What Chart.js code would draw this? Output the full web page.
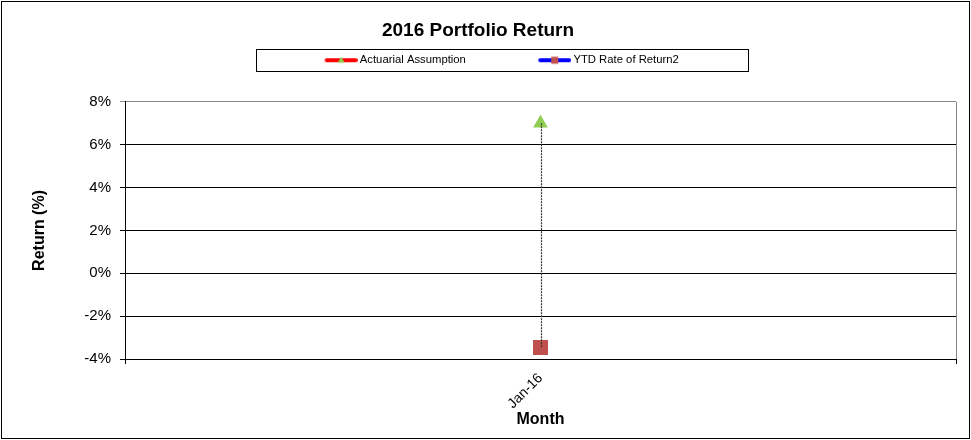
<!DOCTYPE html>
<html>
<head>
<meta charset="utf-8">
<title>2016 Portfolio Return</title>
<script src="https://cdn.jsdelivr.net/npm/chart.js@4/dist/chart.umd.min.js"></script>
<style>
  html, body { margin: 0; padding: 0; background: #fff; }
  #wrap { width: 971px; height: 440px; position: relative; }
</style>
</head>
<body>
<div id="wrap"><canvas id="returnChart"></canvas></div>
<script>
// data
const months = ['Jan-16'];
const actuarialAssumption = [7.0];
const ytdReturn = [-3.46];
const seriesNames = ['Actuarial Assumption', 'YTD Rate of Return2'];
const yTicks = { min: -4, max: 8, step: 2 };

Chart.defaults.font.family = '"Liberation Sans", Arial, sans-serif';
Chart.defaults.color = '#000';

const ICON_BOX = 77;

// little line+marker pictures for the legend
function legendIcon(lineColor, marker, markerColor) {
  const c = document.createElement('canvas');
  c.width = ICON_BOX + 7; c.height = 12;
  const g = c.getContext('2d');
  const x0 = c.width - 31, x1 = c.width - 2, mid = (x0 + x1) / 2;
  g.strokeStyle = lineColor;
  g.lineWidth = 4;
  g.lineCap = 'round';
  g.beginPath();
  g.moveTo(x0, 6); g.lineTo(x1, 6);
  g.stroke();
  g.fillStyle = markerColor;
  if (marker === 'triangle') {
    g.beginPath();
    g.moveTo(mid, 2.5); g.lineTo(mid + 3.5, 8.5); g.lineTo(mid - 3.5, 8.5);
    g.closePath(); g.fill();
  } else {
    g.fillRect(mid - 3.5, 2.5, 7, 7);
  }
  return c;
}
const icons = [
  legendIcon('#ff0000', 'triangle', '#8fce52'),
  legendIcon('#0000ff', 'rect', '#c0504d')
];

// outer frame, legend box, right border of plot, high-low dotted line
const extras = {
  id: 'extras',
  afterDatasetsDraw(chart) {
    const ctx = chart.ctx;
    const p0 = chart.getDatasetMeta(0).data[0];
    const p1 = chart.getDatasetMeta(1).data[0];
    ctx.save();
    ctx.strokeStyle = '#333';
    ctx.lineWidth = 1.2;
    ctx.setLineDash([2, 1]);
    ctx.beginPath();
    ctx.moveTo(Math.round(p0.x) + 0.5, p0.y);
    ctx.lineTo(Math.round(p1.x) + 0.5, p1.y);
    ctx.stroke();
    ctx.restore();
  },
  afterDraw(chart) {
    const ctx = chart.ctx;
    const a = chart.chartArea;
    ctx.save();
    ctx.strokeStyle = '#888';
    ctx.lineWidth = 1;
    ctx.beginPath();
    ctx.moveTo(Math.round(a.right) + 0.5, a.top);
    ctx.lineTo(Math.round(a.right) + 0.5, a.bottom);
    ctx.stroke();

    ctx.strokeStyle = '#000';
    ctx.strokeRect(1.5, 1.5, chart.width - 3, chart.height - 3);

    const hb = chart.legend.legendHitBoxes;
    if (hb && hb.length) {
      const first = hb[0], last = hb[hb.length - 1];
      const x0 = Math.round(first.left + ICON_BOX + 5.5 - 104) + 0.5;
      const x1 = Math.round(last.left + last.width + 69) + 0.5;
      const y0 = Math.round(first.top + 5.5 - 11.5) + 0.5;
      ctx.strokeRect(x0, y0, x1 - x0, 22);
    }
    ctx.restore();
  }
};

new Chart(document.getElementById('returnChart'), {
  type: 'line',
  data: {
    labels: months,
    datasets: [{
      label: seriesNames[0],
      data: actuarialAssumption,
      borderColor: '#ff0000',
      backgroundColor: '#8fce52',
      pointBackgroundColor: '#8fce52',
      pointBorderColor: '#8fce52',
      pointStyle: 'triangle',
      pointRadius: 8.5,
      pointBorderWidth: 0,
      showLine: false
    }, {
      label: seriesNames[1],
      data: ytdReturn,
      borderColor: '#0000ff',
      backgroundColor: '#c0504d',
      pointBackgroundColor: '#c0504d',
      pointBorderColor: '#c0504d',
      pointStyle: 'rect',
      pointRadius: 10.6,
      pointBorderWidth: 0,
      showLine: false
    }]
  },
  options: {
    responsive: true,
    maintainAspectRatio: false,
    animation: false,
    layout: { padding: { top: 0, right: 15, bottom: 0, left: 0 } },
    plugins: {
      title: {
        display: true,
        text: '2016 Portfolio Return',
        color: '#000',
        font: { size: 19, weight: 'bold' },
        padding: { top: 19.6, bottom: 6.2 }
      },
      subtitle: {
        display: true,
        text: '',
        weight: 500,
        font: { size: 10 },
        padding: { top: 14, bottom: 0 }
      },
      legend: {
        display: true,
        position: 'top',
        labels: {
          usePointStyle: true,
          pointStyleWidth: ICON_BOX,
          padding: 6,
          font: { size: 11.3 },
          color: '#000',
          // trailing gap after the first entry, as in the source legend
          generateLabels: chart => chart.data.datasets.map((ds, i) => ({
            text: i === 0 ? ds.label + '      ' : ds.label,
            pointStyle: icons[i],
            fillStyle: 'transparent',
            strokeStyle: 'transparent',
            lineWidth: 0,
            fontColor: '#000',
            hidden: false,
            datasetIndex: i
          }))
        }
      },
      tooltip: { enabled: false }
    },
    scales: {
      x: {
        type: 'category',
        offset: true,
        afterFit: s => { s.height = 81; },
        grid: {
          display: true,
          drawOnChartArea: false,
          offset: true,
          tickLength: 5,
          color: '#000'
        },
        border: { color: '#000', width: 1 },
        ticks: {
          minRotation: 45,
          maxRotation: 45,
          padding: 6,
          font: { size: 14 },
          color: '#000'
        },
        title: {
          display: true,
          text: 'Month',
          font: { size: 16, weight: 'bold' },
          color: '#000',
          padding: { top: 0, bottom: 11 }
        }
      },
      y: {
        min: yTicks.min,
        max: yTicks.max,
        afterFit: s => { s.width = 125; },
        grid: {
          color: c => (c.tick && c.tick.value === yTicks.max) ? '#888' : '#000',
          tickLength: 5,
          lineWidth: 1
        },
        border: { color: '#000', width: 1 },
        ticks: {
          stepSize: yTicks.step,
          padding: 9,
          font: { size: 15 },
          color: '#000',
          callback: v => v + '%'
        },
        title: {
          display: true,
          text: 'Return (%)',
          font: { size: 16, weight: 'bold' },
          color: '#000',
          padding: { top: 30, bottom: 0 }
        }
      }
    }
  },
  plugins: [extras]
});
</script>
</body>
</html>
